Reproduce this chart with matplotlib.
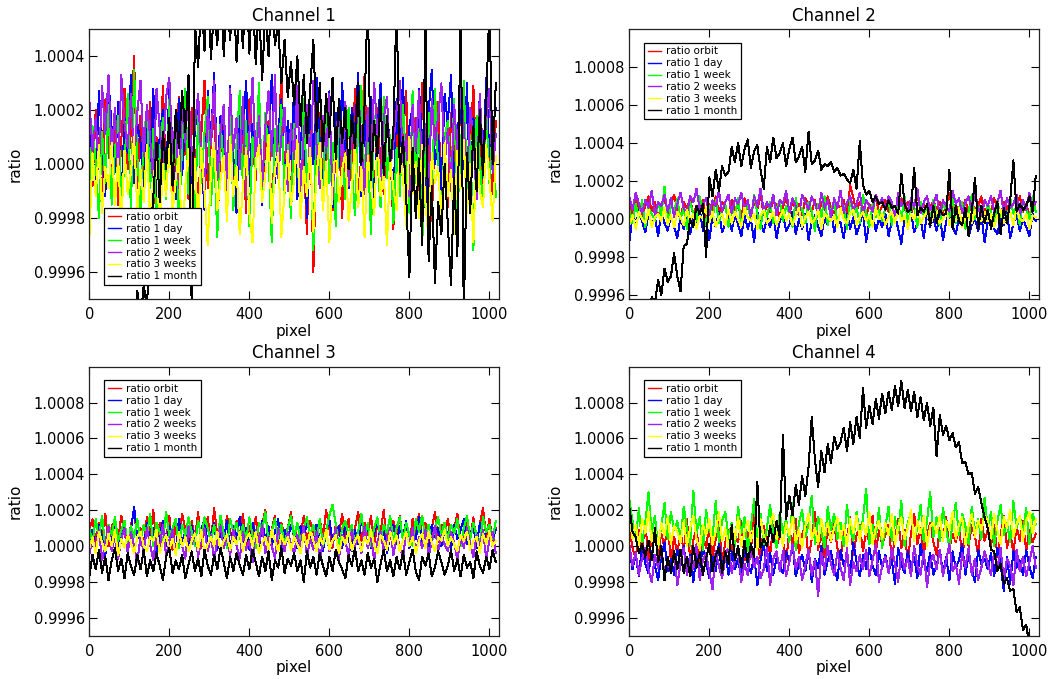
import numpy as np
import matplotlib
matplotlib.use("Agg")
import matplotlib.pyplot as plt

# ---------------- data (ratio deviations in units of 1e-5, sampled every 8 pixels) -------------
pixel_step = 8
series_labels = ["ratio orbit", "ratio 1 day", "ratio 1 week", "ratio 2 weeks", "ratio 3 weeks", "ratio 1 month"]
series_colors = ["#ff0000", "#0000ff", "#00ff00", "#a020f0", "#ffff00", "#000000"]
titles = ["Channel 1", "Channel 2", "Channel 3", "Channel 4"]
xticks = [0, 200, 400, 600, 800, 1000]

# Channel 1
ch1_orbit = [14, -8, 20, 2, -12, 24, 6, -6, 17, -15, 9, 28, -2, 12, 40, -9,
             18, -11, 5, 23, -16, 10, 0, 29, -7, 15, -19, 7, 25, -4, 13, -13,
             21, 3, -17, 11, 31, -9, 8, 18, -24, 5, 15, -12, 27, -1, -14, 19,
             6, -18, 24, 9, -6, 30, -13, 4, 16, -22, 12, 0, 35, -10, 9, -16,
             22, -7, 11, 3, -26, 16, -40, 7, 19, -12, 1, 25, -17, 6, 14, -20,
             9, 17, -8, 28, -14, 4, 33, -5, 12, -19, 21, -1, -11, 16, 7, -24,
             20, -6, 10, 27, -15, 2, 17, -10, 30, -3, 8, -21, 13, 23, -13, 5,
             -16, 19, 4, -8, 26, 12, -18, 7, 29, -5, 14, -14, 22, 0, -11, 16]
ch1_day = [19, 0, -10, 27, 9, -12, 31, 13, -3, 23, -15, 17, 4, 33, -7, 15,
           8, -11, 21, 1, 28, -16, 11, 20, -8, 30, 6, -13, 24, -4, 16, 32,
           -9, 13, 23, 2, -17, 27, 7, 34, -5, 18, 9, -12, 29, 3, -18, 21,
           11, 31, -8, 15, -2, 26, -15, 19, 6, 33, -7, 12, 24, -11, 16, 2,
           28, -13, 9, 18, -20, 22, 0, 32, 8, -10, 14, 27, -16, 19, -1, 30,
           6, -9, 21, 11, 34, -12, 16, 2, 25, -17, 12, 30, -4, 18, 7, -15,
           24, 3, 32, -11, 14, 21, -7, 28, 9, -16, 19, 35, 0, 11, -10, 26,
           15, 33, -8, 12, 22, -2, 30, -14, 17, 6, 25, -5, 32, 3, 13, 21]
ch1_week = [-11, 14, 1, -20, 12, -7, 22, -15, 5, 18, -12, -1, 26, -18, 35, 3,
            -16, 9, 21, -9, 13, -24, 4, 17, -13, 24, -5, 10, -22, 7, 28, -11,
            2, -19, 18, -7, 12, 25, -15, 5, -27, 15, 0, -10, 21, -17, 8, 27,
            -9, 16, -23, 10, -2, 30, -13, 19, 3, -29, 13, -4, 22, -11, 7, -20,
            15, 1, -16, 24, -10, 11, -32, 18, 0, -14, 26, -7, 8, -23, 16, 4,
            -13, 21, -1, -19, 13, 29, -9, 8, -26, 18, 2, -16, 25, -5, 11, -22,
            6, -12, 22, 0, -18, 27, -7, 13, -30, 5, 19, -13, 28, -2, -21, 10,
            16, -9, 24, -17, 3, 31, -10, 11, -32, 18, 1, -15, 21, -7, 13, -12]
ch1_2weeks = [24, 5, 17, -2, 29, 11, 33, 2, 21, -5, 33, 15, 6, 26, 0, 19,
              31, 3, 22, 10, -8, 28, 13, 0, 25, 32, 4, 17, -9, 21, 8, 30,
              -4, 15, 26, 2, -11, 20, 7, 31, -6, 12, 22, -10, 28, 5, 17, -2,
              25, -12, 11, 32, 0, 18, -8, 14, 27, 3, 33, -5, 10, 21, -10, 15,
              2, 29, -14, 12, 22, -3, 31, 7, -9, 18, 4, 26, -13, 11, 20, -1,
              23, -8, 14, 3, 28, 9, -11, 21, 1, 30, 12, -7, 17, 25, -2, 8,
              20, 31, -1, 11, -12, 22, 5, 27, -4, 15, -9, 24, 7, 18, 30, 0,
              13, -10, 22, 4, 29, 14, -6, 21, 9, -13, 26, 2, 16, 28, -3, 11]
ch1_3weeks = [-28, 4, -12, 7, -18, -1, -9, 8, -15, 2, -22, 5, -11, -3, 10, -17,
              -2, -14, 7, -21, -6, 4, -26, 0, -12, 9, -19, -5, 3, -30, -8, 6,
              -16, 2, -24, 6, -10, -30, -3, 8, -17, -6, 3, -21, 10, -12, -1, -26,
              -8, 6, -18, -29, 1, 7, -14, -4, 11, -22, -2, 4, -27, -10, 5, -15,
              -6, 9, -20, -1, -12, 6, -25, -4, 8, -17, 1, -29, -8, 7, -14, -2,
              4, -21, -10, 8, -16, -1, -27, 3, -7, -19, 9, -12, -3, -30, 2, -9,
              -17, 6, -5, -23, 10, -11, 1, -20, 7, -14, -28, 4, -7, -1, -22, 8,
              -12, -2, -26, 5, -9, 9, -18, 0, -29, 6, -10, -16, 7, -5, -21, 3]
ch1_month = [-130, -125, -122, -118, -112, -108, -102, -98, -92, -88, -84, -78, -72, -68, -60, -47,
             -58, -45, -53, -28, -12, 8, -14, 12, -2, 17, -8, 20, 6, 27, 12, 33,
             -55, 52, 36, 62, 42, 70, 39, 58, 44, 75, 40, 63, 46, 68, 38, 60,
             43, 72, 41, 65, 37, 60, 31, 57, 40, 66, 44, 52, 30, 46, 25, 38,
             22, 40, 14, 33, 8, 28, 46, 12, 30, 5, 26, 10, 32, 2, 24, 8,
             21, -2, 18, 6, 30, 0, 22, 62, -6, 16, 3, 24, -4, 18, 1, 12,
             60, -3, 10, -12, -42, 6, -20, 2, -30, 55, -36, -8, -44, -14, -26, 0,
             -22, -45, -5, -34, 62, -56, 4, -18, 14, -10, 20, -4, 24, 58, 0, 30]

# Channel 2
ch2_orbit = [8, 3, 10, 5, 1, 7, 12, 4, 9, 2, 6, 11, 3, 8, 13, 5,
             0, 9, 6, 11, 2, 7, 4, 10, 1, 8, 5, 12, 3, 9, 6, 2,
             10, 4, 7, 1, 11, 6, 3, 9, 5, 13, 2, 8, 4, 10, 7, 1,
             6, 12, 3, 9, 5, 8, 2, 11, 7, 4, 10, 1, 9, 5, 12, 6,
             3, 8, 5, 10, 2, 18, 11, 4, 9, 6, 1, 8, 5, 12, 3, 7,
             10, 4, 8, 2, 6, 11, 5, 9, 3, 7, 13, 4, 8, 1, 6, 10,
             5, 9, 2, 7, 14, 4, 8, 1, 6, 10, 3, 9, 5, 7, 12, 2,
             8, 4, 11, 6, 1, 9, 5, 10, 3, 7, 12, 4, 8, 2, 6, 9]
ch2_day = [-12, 2, -4, 5, -1, -7, 3, -3, 1, -9, 4, -2, -6, 2, -4, -10,
           1, -5, 3, -8, 0, -3, 5, -6, -1, -11, 2, -4, 4, -7, -2, 1,
           -6, 3, -3, -9, 2, -5, 0, -12, 4, -2, -7, 1, -4, 3, -10, -1,
           2, -6, -3, 4, -8, 0, -5, 3, -11, -1, 2, -4, -9, 1, -3, 5,
           -7, 0, -2, -10, 3, -5, 1, -8, -3, 4, -12, -1, 2, -6, 0, -4,
           3, -9, -1, 2, -5, -13, 1, -3, 4, -7, -2, 0, -10, 3, -4, 1,
           -6, 2, -11, -1, 3, -4, -8, 1, -2, 4, -9, -3, 0, -6, 2, -12,
           -1, 3, -5, -8, 1, -3, 4, -10, -2, 2, -6, 0, -4, -9, 3, -1]
ch2_week = [5, -2, 8, 1, 10, -4, 6, 3, -1, 9, 2, 17, -3, 7, 4, 11,
            0, 6, -5, 9, 3, -1, 12, 4, -3, 7, 1, 10, -2, 5, 8, -4,
            6, 2, 11, -3, 4, 8, -1, 13, 3, -5, 7, 1, 9, -2, 5, 10,
            -1, 7, 3, -4, 11, 2, 6, -2, 9, 4, -6, 8, 1, 12, -3, 5,
            9, -1, 4, 7, -5, 10, 2, 6, -2, 13, 3, -4, 8, 1, 5, -1,
            6, 11, -3, 4, 8, 0, 12, -2, 5, 7, -4, 9, 2, 6, -1, 10,
            3, -3, 8, 5, 1, 11, -2, 6, 9, -5, 4, 13, 0, 7, 2, -2,
            8, 4, -4, 10, 1, 6, -1, 11, 3, 7, -3, 9, 5, 0, 12, 4]
ch2_2weeks = [12, 5, 14, 8, 3, 10, 6, 15, 2, 9, 7, 13, 4, 11, 1, 8,
              14, 6, 3, 12, 9, 16, 5, 8, 11, 2, 10, 7, 15, 4, 9, 13,
              3, 11, 8, 14, 5, 10, 1, 12, 7, 16, 4, 9, 6, 13, 2, 10,
              8, 15, 4, 11, 7, 2, 13, 9, 5, 12, 8, 3, 14, 6, 10, 1,
              11, 6, 15, 3, 9, 12, 5, 8, 14, 2, 10, 7, 4, 13, 8, 11,
              5, 12, 9, 1, 14, 7, 10, 4, 11, 6, 16, 3, 9, 12, 5, 8,
              13, 2, 10, 7, 4, 15, 8, 11, 3, 9, 12, 5, 14, 6, 1, 10,
              7, 12, 4, 9, 15, 3, 11, 6, 8, 13, 2, 10, 5, 14, 7, 9]
ch2_3weeks = [-3, 2, -5, 4, 0, -2, 5, -4, 1, 3, -1, 6, -3, 2, -4, 4,
              1, -3, 5, -1, 3, -5, 2, 0, 6, -2, 4, -4, 1, 3, -3, 5,
              -2, 4, 0, -4, 6, 1, -1, 3, -5, 2, 5, -2, 0, 4, -3, 1,
              5, -1, 3, -3, 2, 6, -4, 1, 4, -2, 0, 5, -5, 3, 1, -1,
              2, -4, 6, 0, -2, 3, 5, -3, 1, 4, -1, 2, -4, 6, 0, 3,
              -3, 1, 4, -2, 5, -1, 2, -5, 3, 0, 6, -2, 1, 4, -3, 2,
              4, -2, 0, 5, -3, 2, -1, 6, -4, 1, 3, -2, 5, 0, -1, 4,
              -1, 3, -4, 2, 5, -2, 1, 4, -3, 6, 0, -1, 3, -5, 2, 1]
ch2_month = [-72, -64, -65, -57, -58, -48, -50, -41, -44, -32, -40, -26, -33, -30, -18, -30,
             -38, -14, -13, 0, -4, 7, 3, 8, -20, 22, 12, 26, 15, 28, 23, 25,
             38, 30, 40, 28, 37, 42, 27, 36, 39, 26, 16, 38, 30, 43, 32, 35,
             40, 28, 37, 43, 30, 33, 38, 25, 46, 29, 31, 36, 26, 29, 28, 30,
             25, 27, 23, 24, 21, 19, 26, 16, 41, 18, 13, 15, 9, 12, 8, 9,
             5, 10, 6, 7, 3, 24, 8, 4, 5, 27, 2, 6, 4, 8, -3, 7,
             -2, 5, 2, 3, 26, -5, 7, -1, -3, 6, -9, 4, 22, -5, 7, -2,
             5, -5, 3, 9, -8, 6, -2, 10, 31, 4, 8, 5, 7, 12, 4, 23]

# Channel 3
ch3_orbit = [9, 15, 2, 13, 5, 18, 0, 11, 14, 3, 17, 7, -1, 12, 19, 4,
             10, 1, 16, 6, 20, 0, 13, 8, 3, 17, -2, 12, 5, 18, 9, 1,
             14, 4, 19, -1, 10, 16, 2, 21, 6, 12, 0, 17, 8, 3, 14, 5,
             18, 0, 11, 6, 16, 3, 12, 20, 1, 9, 17, -2, 13, 5, 10, 19,
             3, 12, 6, 17, 0, 14, 8, 2, 15, 5, 20, 10, -1, 12, 6, 18,
             4, 15, 0, 10, 19, 3, 13, 6, 17, 1, 12, 8, 20, -1, 10, 14,
             6, 17, 3, 12, 0, 15, 8, 18, 4, 13, -1, 10, 19, 2, 12, 6,
             15, 3, 10, 18, 0, 8, 14, 4, 16, 1, 12, 21, 5, 15, 3, 10]
ch3_day = [1, 9, -3, 12, 5, -5, 10, 3, 13, -1, 7, 14, 1, 9, 22, 4,
           8, -2, 13, 3, 10, -5, 6, 14, 0, 11, 5, -3, 15, 2, 8, -1,
           11, 4, -4, 9, 15, 0, 6, 13, -2, 8, 3, 14, -3, 11, 4, 16,
           2, 10, -2, 13, 6, -3, 14, 4, 11, 0, 8, 15, -4, 9, 3, 12,
           6, -1, 11, 3, 14, 7, 0, 12, 4, -3, 9, 15, 2, 6, 11, -1,
           12, 4, -3, 9, 1, 15, 6, 11, -1, 7, 14, 3, 9, -4, 6, 12,
           1, 11, 5, 14, -1, 9, 4, 16, 2, 7, -3, 12, 5, 10, 0, 9,
           7, -2, 12, 4, 9, 15, 1, 6, 11, -1, 13, 3, 8, 12, 4, 9]
ch3_week = [10, 2, 15, 5, 17, -1, 12, 6, 16, 3, 9, 14, 0, 11, 5, 15,
            3, 12, 6, 18, 0, 13, 8, 2, 19, 5, 10, 15, -1, 12, 6, 16,
            8, 0, 14, 5, 16, 10, 2, 12, 3, 17, 7, -1, 15, 8, 13, 4,
            12, 3, 16, 6, -1, 13, 9, 19, 2, 8, 15, 4, 12, 0, 10, 17,
            5, 13, 2, 10, 16, 6, 12, 3, 15, 0, 8, 17, 23, 12, -1, 10,
            14, 6, 12, 1, 8, 18, 4, 13, 0, 10, 16, 3, 12, 7, 17, 2,
            10, 16, 3, 13, 6, 0, 15, 8, 17, 4, 12, 2, 10, 16, 6, 13,
            3, 12, 7, 15, 0, 10, 17, 4, 13, 6, 1, 16, 8, 12, 4, 14]
ch3_2weeks = [-5, 5, -1, 9, -8, 2, 11, -3, 6, -7, 4, 10, -4, 8, 0, -9,
              5, -3, 10, 1, -8, 7, -1, 12, -6, 3, 9, -4, 6, 0, -7, 11,
              1, 8, -6, 4, 10, -3, 6, -8, 3, 11, -1, 5, -5, 9, 0, -7,
              8, -2, 3, -9, 9, 1, 12, -4, 5, 0, -7, 10, 3, -3, 8, 1,
              -4, 6, 0, 11, -6, 4, -2, 8, -8, 3, 9, -3, 2, 10, -7, 6,
              3, -6, 9, 0, 5, -4, 11, -1, 6, -8, 2, 8, -3, 4, 10, -5,
              6, 0, -7, 8, 1, 10, -4, 5, -1, 9, -6, 3, 11, -3, 6, 1,
              -3, 8, 2, -8, 5, -1, 10, 1, -6, 6, 0, 9, -7, 3, 8, -4]
ch3_3weeks = [-1, 5, -4, 8, 2, -3, 7, 0, 9, -5, 4, -1, 6, 2, -4, 5,
              8, 0, -3, 5, 3, 9, -4, 2, 6, -2, 4, -5, 8, 0, 5, -3,
              3, 7, -2, 9, -4, 1, 5, 0, 8, -3, 3, 6, -2, 5, 1, 8,
              -3, 4, 7, 0, 8, -4, 2, 5, -2, 9, 3, -3, 6, 1, 5, -2,
              5, 1, -4, 7, 0, 8, 3, -3, 5, 1, 9, -2, 3, 6, -4, 5,
              1, 8, -2, 3, 6, -3, 5, 1, 9, 0, -4, 6, 3, -2, 8, 1,
              6, -3, 3, 8, 0, 5, -4, 3, 7, -1, 8, 2, -3, 5, 3, 9,
              0, 5, 1, -3, 6, 3, 8, -2, 3, 5, -4, 7, 1, 8, 0, 3]
ch3_month = [-17, -5, -13, -2, -15, -6, -19, -8, -1, -14, -7, -18, -4, -11, -16, -5,
             -13, -2, -17, -8, -14, -4, -11, -19, -6, -1, -15, -8, -13, -5, -18, -10,
             -3, -14, -7, -17, -2, -11, -16, -5, -13, -1, -9, -18, -6, -14, -4, -11,
             -16, -5, -13, -2, -9, -17, -6, -14, -3, -19, -8, -12, -1, -15, -7, -11,
             -4, -14, -8, -20, -3, -12, -6, -16, -4, -11, -17, -6, -14, -2, -9, -13,
             -18, -5, -11, -1, -14, -8, -16, -4, -12, -7, -20, -10, -2, -14, -8, -17,
             -6, -13, -3, -16, -9, -2, -14, -19, -6, -11, -4, -17, -12, -3, -9, -16,
             -11, -2, -14, -7, -17, -5, -12, -9, -18, -3, -11, -15, -6, -13, -2, -9]

# Channel 4
ch4_orbit = [11, -1, -7, 9, -3, 13, -8, 4, 10, -5, 7, -1, 14, -9, 5, -4,
             8, -3, 15, -7, 3, 11, -10, 6, -1, 12, -6, 4, 16, -8, 2, 9,
             -4, 6, 2, 14, -8, 8, -2, 18, 1, -7, 11, 4, -5, 12, -1, 7,
             3, -9, 9, 0, 15, -4, 6, 12, -7, 4, 19, -2, 8, -6, 11, 2,
             13, -1, -8, 9, 4, 16, -5, 6, 12, -3, 8, 2, 17, -4, 9, 1,
             6, 12, -7, 4, 15, -1, 9, -9, 7, 18, 1, 10, -4, 6, 13, 2,
             -5, 10, 4, 16, -2, 7, 2, 13, -8, 9, 0, 12, 5, -5, 15, 3,
             9, 0, 12, -6, 6, 17, -1, 8, -4, 11, 3, 14, -3, 9, 2, 7]
ch4_day = [-1, -13, -5, -17, 1, -10, -15, -3, -11, -19, -6, 2, -14, -7, -16, -2,
           -11, 0, -15, -5, -20, -4, -12, -1, -9, -18, -6, -14, 2, -11, -4, -16,
           -3, -13, -7, -19, 0, -10, -15, -5, -22, -8, 1, -14, -4, -16, -7, -11,
           -15, -3, -9, 1, -17, -10, -5, -14, -2, -20, -7, -12, 0, -16, -8, -3,
           -12, -19, -2, -11, -6, -15, 2, -9, -17, -5, -13, -1, -11, -16, -3, -12,
           -5, -14, -8, -21, -1, -10, -15, -3, -12, -6, -18, 1, -9, -14, -4, -16,
           -11, -2, -15, -6, -19, -3, -12, -8, 1, -16, -5, -13, -20, -2, -10, -7,
           -13, -4, -17, -1, -10, -25, -6, -21, -3, -12, -8, -16, -2, -11, -18, -6]
ch4_week = [26, 14, 4, 21, 1, 13, 30, 7, 17, -1, 11, 24, 4, 19, 9, 14,
            3, 22, 10, 0, 31, 7, 16, -2, 20, 9, 5, 25, 2, 14, 19, 4,
            13, 0, 22, 7, 16, -3, 11, 26, 4, 18, 1, 10, 23, 6, -1, 19,
            7, 15, 2, 24, -2, 13, 20, 5, 12, 28, 1, 16, 8, -1, 22, 9,
            18, 4, 13, 0, 23, 9, 3, 19, 7, 15, 32, 1, 12, 5, 21, -1,
            11, 22, 3, 16, 7, 25, 0, 13, 18, 4, 10, 23, 2, 14, 30, 5,
            16, 3, 21, 9, -1, 13, 24, 6, 18, 11, 1, 22, 7, 15, 4, 27,
            9, 19, 0, 14, 23, 6, 13, 2, 25, 10, 17, 7, 21, 1, 18, 12]
ch4_2weeks = [1, -11, -4, -16, -7, -1, -13, -20, -5, -12, 0, -17, -8, -15, -3, -22,
              -10, -1, -16, -6, -13, 1, -19, -8, -4, -15, -24, -3, -11, -18, -6, 0,
              -15, -8, -2, -20, -10, -16, -1, -12, -6, -18, -13, 0, -22, -7, -3, -14,
              -3, -17, -9, 1, -13, -6, -19, -11, -2, -16, -8, -28, -4, -13, 0, -10,
              -16, -4, -12, -19, -1, -22, -9, -14, -5, -13, -2, -17, -8, 1, -20, -11,
              -6, -15, -1, -10, -20, -4, -13, -7, -17, 0, -11, -16, -3, -23, -9, -5,
              -13, -2, -17, -8, 1, -14, -10, -21, -4, -12, -1, -16, -7, -19, -12, -3,
              -10, -16, -3, -13, -1, -19, -7, -11, -22, -2, -14, -6, -17, -9, 0, -12]
ch4_3weeks = [17, 4, 12, 0, 15, 7, 19, 2, 10, -1, 13, 6, 16, 1, 11, 8,
              2, 14, 0, 10, 17, 4, -2, 12, 6, 15, 1, 8, 19, 3, 10, -1,
              12, 4, 16, 0, 8, 14, 3, 10, -2, 15, 6, 1, 12, 18, 4, 10,
              0, 13, 6, 16, 2, 9, -1, 11, 18, 4, 10, 1, 15, 6, 13, 3,
              10, 16, 4, 12, 0, 15, 7, 17, 3, 13, 6, 19, 1, 10, 14, 4,
              13, 6, 18, 1, 11, 16, 4, 10, 20, 3, 14, 7, 17, 0, 11, 13,
              7, 17, 3, 14, 9, 19, 4, 12, 16, 1, 11, 18, 5, 14, 9, 17,
              14, 4, 18, 9, 1, 16, 10, 20, 5, 12, 17, 3, 14, 19, 7, 15]
ch4_month = [22, 8, 5, -4, 1, -6, 3, -8, 10, -9, 0, -19, -6, -15, -3, -13,
             -2, -15, -6, -17, 0, -12, -4, -16, -7, 1, -14, -5, -1, -15, -3, -10,
             12, -8, 0, -12, 3, -9, 1, -6, 36, -1, 4, 0, 11, 2, 14, 5,
             62, 15, 28, 17, 34, 23, 39, 28, 44, 72, 48, 33, 53, 41, 57, 46,
             61, 54, 58, 66, 53, 69, 57, 72, 60, 88, 66, 78, 68, 82, 71, 85,
             74, 86, 76, 89, 78, 92, 77, 87, 75, 86, 72, 83, 70, 80, 67, 77,
             50, 73, 62, 67, 59, 63, 55, 58, 46, 47, 40, 41, 29, 33, 24, 16,
             10, -2, -3, -14, -10, -21, -18, -25, -24, -37, -34, -47, -44, -55, -52, -60]

ylims = [(0.9995, 1.0005), (0.99958, 1.0010), (0.9995, 1.0010), (0.9995, 1.0010)]
yticks = [[0.9996, 0.9998, 1.0000, 1.0002, 1.0004],
          [0.9996, 0.9998, 1.0000, 1.0002, 1.0004, 1.0006, 1.0008],
          [0.9996, 0.9998, 1.0000, 1.0002, 1.0004, 1.0006, 1.0008],
          [0.9996, 0.9998, 1.0000, 1.0002, 1.0004, 1.0006, 1.0008]]
legend_locs = ["lower left", "upper left", "upper left", "upper left"]

channels = [
    [ch1_orbit, ch1_day, ch1_week, ch1_2weeks, ch1_3weeks, ch1_month],
    [ch2_orbit, ch2_day, ch2_week, ch2_2weeks, ch2_3weeks, ch2_month],
    [ch3_orbit, ch3_day, ch3_week, ch3_2weeks, ch3_3weeks, ch3_month],
    [ch4_orbit, ch4_day, ch4_week, ch4_2weeks, ch4_3weeks, ch4_month],
]

# ---------------- figure ----------------
W, H = 1051, 679
fig = plt.figure(figsize=(W / 100, H / 100), dpi=100)
plt.rcParams['font.family'] = ['DejaVu Sans']

# axes boxes in pixels: (left, top, right, bottom)
boxes = [(89.3, 29.3, 499.0, 299.0), (629.3, 29.3, 1039.0, 299.0),
         (89.3, 366.7, 499.0, 635.7), (629.3, 366.7, 1039.0, 635.7)]

for k in range(4):
    l, t, r, b = boxes[k]
    ax = fig.add_axes([l / W, 1 - b / H, (r - l) / W, (b - t) / H])
    for vals, col, lab in zip(channels[k], series_colors, series_labels):
        v = np.asarray(vals, dtype=float)
        px = np.arange(len(v)) * pixel_step
        ax.plot(px, 1.0 + v * 1e-5, color=col, lw=0.72, label=lab, antialiased=False)
    ax.set_xlim(0, 1024)
    ax.set_ylim(*ylims[k])
    ax.set_xticks(xticks)
    ax.set_yticks(yticks[k])
    ax.set_yticklabels([f"{t:.4f}" for t in yticks[k]])
    ax.tick_params(direction='in', length=5.5, width=0.8, top=True, right=True,
                   labelsize=10.5, colors='black')
    ax.tick_params(axis='x', pad=6)
    ax.tick_params(axis='y', pad=3)
    for s in ax.spines.values():
        s.set_linewidth(0.9)
        s.set_color('#222222')
    ax.set_title(titles[k], fontsize=12, pad=6)
    ax.set_xlabel("pixel", fontsize=11, labelpad=1)
    ax.set_ylabel("ratio", fontsize=11, labelpad=8)
    if legend_locs[k] == "lower left":
        anchor = (0.0366, 0.052)
    else:
        anchor = (0.0366, 0.950)
    leg = ax.legend(loc=legend_locs[k], bbox_to_anchor=anchor, borderaxespad=0,
                    fontsize=7.5, handlelength=1.3, handletextpad=0.45,
                    labelspacing=0.18, borderpad=0.35, fancybox=False,
                    framealpha=1.0, edgecolor='black')
    leg.get_frame().set_linewidth(0.9)
    for h in leg.get_lines():
        h.set_linewidth(1.0)

fig.savefig("out.png", dpi=100)
